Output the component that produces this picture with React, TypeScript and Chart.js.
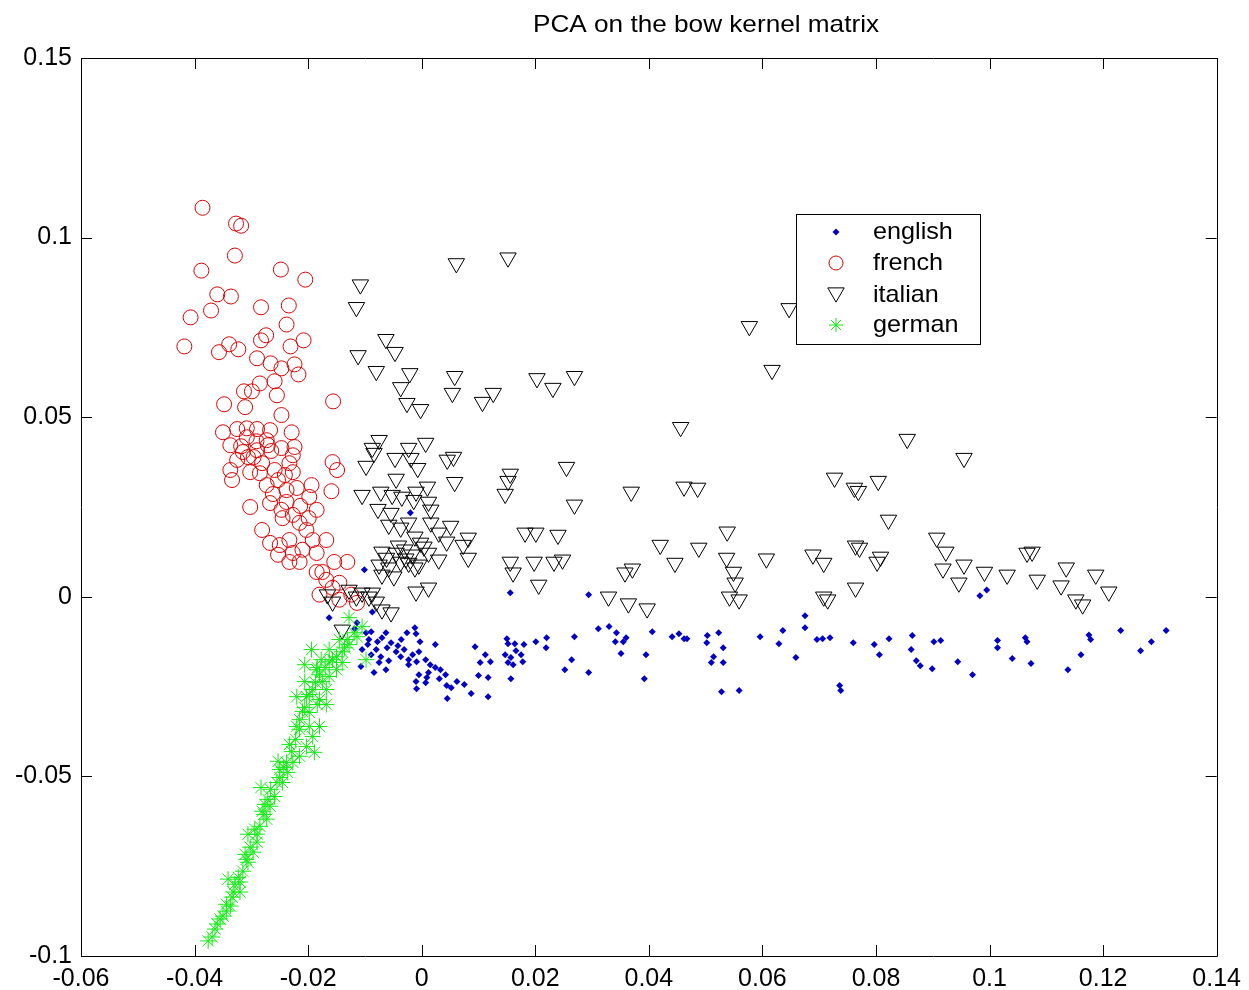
import { useEffect, useRef } from "react";
import { Chart, registerables } from "chart.js";

Chart.register(...registerables);

const chartTitle = "PCA on the bow kernel matrix";
const seriesNames = ["english", "french", "italian", "german"];
const xTickValues = [-0.06, -0.04, -0.02, 0, 0.02, 0.04, 0.06, 0.08, 0.1, 0.12, 0.14];
const xTickLabels = ["-0.06", "-0.04", "-0.02", "0", "0.02", "0.04", "0.06", "0.08", "0.1", "0.12", "0.14"];
const yTickValues = [-0.1, -0.05, 0, 0.05, 0.1, 0.15];
const yTickLabels = ["-0.1", "-0.05", "0", "0.05", "0.1", "0.15"];

const englishPoints: [number, number][] = [
  [0.0156, 0.0011], [0.0294, 0.0006], [-0.0087, -0.0042], [-0.0114, -0.0072], [-0.0163, -0.0058],
  [-0.0098, -0.01], [-0.0089, -0.0097], [-0.0063, -0.01], [-0.0026, -0.01], [-0.0012, -0.0086],
  [-0.001, -0.0103], [-0.0093, -0.0119], [-0.007, -0.0114], [-0.0054, -0.0128], [-0.0003, -0.0125],
  [0.0024, -0.0133], [-0.0105, -0.0147], [-0.008, -0.0147], [-0.0061, -0.0142], [-0.0045, -0.0153],
  [-0.0031, -0.0147], [-0.0005, -0.0153], [-0.0089, -0.0161], [-0.0072, -0.0167], [-0.0037, -0.0167],
  [-0.0023, -0.0175], [0.0007, -0.0175], [-0.0075, -0.0183], [-0.0023, -0.0189], [-0.0009, -0.0181],
  [-0.0107, -0.0194], [-0.0063, -0.0203], [0.0024, -0.0197], [0.0012, -0.0211], [-0.0005, -0.0217],
  [0.0033, -0.0203], [-0.0084, -0.0211], [0.0042, -0.0217], [0.0009, -0.0225], [-0.001, -0.0236],
  [0.0007, -0.0239], [0.0044, -0.0247], [0.0052, -0.0253], [-0.0009, -0.0256], [0.0075, -0.0244],
  [0.0087, -0.0269], [0.0045, -0.0283], [0.0117, -0.0278], [0.0094, -0.0139], [0.0112, -0.0161],
  [0.0121, -0.0181], [0.0103, -0.0183], [0.01, -0.0219], [0.0117, -0.0225], [0.015, -0.0117],
  [0.0152, -0.0131], [0.0164, -0.0131], [0.018, -0.0133], [0.0201, -0.0125], [0.022, -0.0114],
  [0.0219, -0.0142], [0.0147, -0.0161], [0.0166, -0.015], [0.0175, -0.0161], [0.0157, -0.0169],
  [0.0152, -0.0183], [0.0161, -0.0189], [0.0178, -0.0181], [0.0157, -0.0228], [0.0269, -0.0111],
  [0.0264, -0.0175], [0.0252, -0.0203], [0.0294, -0.0211], [0.0311, -0.0089], [0.033, -0.0083],
  [0.0343, -0.01], [0.036, -0.0114], [0.0355, -0.0125], [0.0341, -0.0125], [0.0351, -0.0158],
  [0.0395, -0.0161], [0.0406, -0.0097], [0.0392, -0.0228], [0.0441, -0.0111], [0.0453, -0.0103],
  [0.0462, -0.0117], [0.0467, -0.0117], [0.0503, -0.0108], [0.0523, -0.01], [0.0502, -0.0128],
  [0.0531, -0.0142], [0.0514, -0.0167], [0.051, -0.0183], [0.0531, -0.0183], [0.0528, -0.0264],
  [0.0559, -0.0261], [0.0596, -0.0111], [0.0636, -0.0094], [0.0629, -0.0131], [0.0983, 0.0003],
  [0.0995, 0.0019], [0.0675, -0.0053], [0.0675, -0.0086], [0.0659, -0.0169], [0.0696, -0.0119],
  [0.0706, -0.0117], [0.0719, -0.0114], [0.0736, -0.0247], [0.0738, -0.0261], [0.076, -0.0128],
  [0.0797, -0.0133], [0.0806, -0.0161], [0.0823, -0.0117], [0.0864, -0.0108], [0.0862, -0.0147],
  [0.0871, -0.0178], [0.0878, -0.0192], [0.0899, -0.02], [0.0902, -0.0125], [0.0914, -0.0122],
  [0.0944, -0.0181], [0.097, -0.0217], [0.1014, -0.0122], [0.1014, -0.0142], [0.104, -0.0172],
  [0.1063, -0.0114], [0.1066, -0.0125], [0.1073, -0.0186], [0.1138, -0.0203], [0.1161, -0.0161],
  [0.1175, -0.0106], [0.1178, -0.0119], [0.1231, -0.0094], [0.1266, -0.015], [0.1285, -0.0125],
  [0.1311, -0.0094], [-0.002, 0.0234], [-0.0101, 0.0075],
  [-0.0078, -0.0125], [-0.0042, -0.0136], [-0.0016, -0.0161], [-0.0058, -0.0178], [0.0015, -0.0189],
  [-0.0095, -0.0133], [-0.0118, -0.0089], [-0.0036, -0.0119], [0.0031, -0.0228], [0.0062, -0.0236],
];

const frenchPoints: [number, number][] = [
  [-0.0386, 0.1083], [-0.0327, 0.1039], [-0.0318, 0.1033], [-0.0329, 0.095], [-0.0388, 0.0908],
  [-0.0248, 0.0911], [-0.0205, 0.0883], [-0.036, 0.0842], [-0.0336, 0.0836], [-0.0371, 0.0797],
  [-0.0407, 0.0778], [-0.0283, 0.0806], [-0.0234, 0.0811], [-0.0238, 0.0758], [-0.0418, 0.0697],
  [-0.0357, 0.0681], [-0.0339, 0.0703], [-0.0323, 0.0689], [-0.0283, 0.0714], [-0.0274, 0.0728],
  [-0.0208, 0.0714], [-0.029, 0.0664], [-0.0266, 0.065], [-0.0247, 0.0636], [-0.0224, 0.0647],
  [-0.0217, 0.0619], [-0.0259, 0.06], [-0.0285, 0.0594], [-0.0313, 0.0572], [-0.0299, 0.0572],
  [-0.0255, 0.0561], [-0.0348, 0.0536], [-0.0156, 0.0544], [-0.0311, 0.0528], [-0.0247, 0.0506],
  [-0.035, 0.0458], [-0.0325, 0.0467], [-0.0308, 0.0469], [-0.029, 0.0467], [-0.0267, 0.0464],
  [-0.0229, 0.0458], [-0.0308, 0.0444], [-0.0273, 0.0436], [-0.0337, 0.0422], [-0.0315, 0.0403],
  [-0.029, 0.0408], [-0.0271, 0.0422], [-0.0247, 0.0414], [-0.0224, 0.0417], [-0.0325, 0.0381],
  [-0.0306, 0.0389], [-0.0227, 0.0394], [-0.0157, 0.0375], [-0.0149, 0.0353], [-0.0337, 0.0353],
  [-0.0334, 0.0325], [-0.0302, 0.0347], [-0.0285, 0.0344], [-0.0259, 0.0353], [-0.0233, 0.0372],
  [-0.0227, 0.0347], [-0.0273, 0.0311], [-0.0253, 0.0325], [-0.0238, 0.0297], [-0.022, 0.0303],
  [-0.0194, 0.0311], [-0.0198, 0.0278], [-0.0185, 0.0242], [-0.0159, 0.0294], [-0.0302, 0.025],
  [-0.0267, 0.0261], [-0.0247, 0.0242], [-0.0227, 0.0228], [-0.0245, 0.0219], [-0.0215, 0.0206],
  [-0.0281, 0.0186], [-0.0203, 0.0186], [-0.0192, 0.0158], [-0.0168, 0.0158], [-0.0267, 0.015],
  [-0.025, 0.0144], [-0.0233, 0.0158], [-0.0227, 0.0122], [-0.021, 0.0131], [-0.0253, 0.0117],
  [-0.0233, 0.0097], [-0.0215, 0.0097], [-0.0185, 0.0122], [-0.0154, 0.0097], [-0.0131, 0.0097],
  [-0.0175, 0.0069], [-0.0185, 0.0069], [-0.0168, 0.0047], [-0.0145, 0.0039], [-0.018, 0.0006],
  [-0.0157, 0.0025], [-0.0145, -0.0008], [-0.0124, 0.0006], [-0.0114, -0.0017], [-0.0231, 0.0697],
  [-0.0296, 0.0389], [-0.0281, 0.0372], [-0.0262, 0.0286], [-0.0238, 0.0264], [-0.0214, 0.0253],
  [-0.0199, 0.0219], [-0.0265, 0.0406], [-0.0318, 0.0419], [-0.0291, 0.0433], [-0.0241, 0.0339],
];

const italianPoints: [number, number][] = [
  [0.0061, 0.0928], [0.0152, 0.0944], [-0.0108, 0.0869], [-0.0115, 0.0806], [-0.0063, 0.0717],
  [-0.0047, 0.0681], [-0.0112, 0.0672], [-0.008, 0.0628], [-0.0021, 0.0622], [-0.0037, 0.0583],
  [0.0058, 0.0614], [0.0054, 0.0567], [0.0107, 0.0542], [0.0126, 0.0567], [-0.0026, 0.0539],
  [-0.0002, 0.0522], [-0.0075, 0.0436], [-0.0087, 0.0414], [-0.0084, 0.04], [-0.0098, 0.0364],
  [-0.0047, 0.0386], [-0.0023, 0.0414], [0.0007, 0.0428], [-0.0019, 0.0386], [-0.0007, 0.0358],
  [0.0045, 0.0381], [0.0056, 0.0389], [-0.0045, 0.0328], [0.0156, 0.0342], [0.0152, 0.0322],
  [0.0147, 0.0286], [-0.0105, 0.0283], [-0.0072, 0.0292], [-0.0052, 0.0283], [-0.0035, 0.0278],
  [-0.001, 0.0292], [0.001, 0.0306], [0.0058, 0.0319], [-0.0077, 0.0244], [-0.0054, 0.0233],
  [-0.0014, 0.0269], [0.0012, 0.0264], [0.0016, 0.0242], [-0.0058, 0.02], [-0.0037, 0.0192],
  [-0.0023, 0.0206], [0.0016, 0.0206], [0.0051, 0.0197], [-0.0012, 0.0167], [-0.0002, 0.015],
  [0.003, 0.0178], [0.0044, 0.0153], [0.0082, 0.0164], [0.0073, 0.0144], [0.0082, 0.0108],
  [-0.007, 0.0125], [-0.0045, 0.0122], [-0.003, 0.0131], [-0.0017, 0.0117], [0.0012, 0.0122],
  [0.003, 0.0103], [-0.0075, 0.0089], [-0.0058, 0.0081], [-0.0037, 0.0097], [-0.0023, 0.0094],
  [-0.0005, 0.0089], [-0.0049, 0.0056], [-0.007, 0.0061], [-0.001, 0.0014], [0.0012, 0.0025],
  [0.0156, 0.0097], [0.0161, 0.0067], [0.0182, 0.0178], [-0.0087, 0.0011], [-0.0105, 0.0011],
  [-0.0128, 0.0019], [-0.0054, -0.0044], [-0.007, -0.0036], [-0.014, -0.0092], [-0.0115, 0.0],
  [-0.0093, 0.0], [-0.008, -0.0014], [-0.0166, 0.0006], [-0.0157, -0.0014],
  [0.0647, 0.0803], [0.0577, 0.0753], [0.0617, 0.0631], [0.0203, 0.0608], [0.0231, 0.0581],
  [0.0269, 0.0614], [0.0456, 0.0472], [0.0255, 0.0361], [0.0269, 0.0256], [0.0369, 0.0292],
  [0.0462, 0.0306], [0.0486, 0.0303], [0.0727, 0.0331], [0.0762, 0.0303], [0.0201, 0.0178],
  [0.024, 0.0172], [0.042, 0.0144], [0.0488, 0.0136], [0.0538, 0.0181], [0.0198, 0.0097],
  [0.0233, 0.0097], [0.0248, 0.0103], [0.0206, 0.0033], [0.0358, 0.0067], [0.0371, 0.0078],
  [0.0446, 0.0094], [0.0537, 0.0108], [0.0549, 0.0069], [0.0552, 0.0039], [0.0542, 0.0],
  [0.0559, -0.0008], [0.0607, 0.0106], [0.0689, 0.0117], [0.0708, 0.0094], [0.0764, 0.0142],
  [0.0764, 0.0025], [0.0708, 0.0], [0.0715, -0.0008], [0.0329, 0.0], [0.0364, -0.0019],
  [0.0397, -0.0033], [0.0855, 0.0439], [0.0955, 0.0386], [0.0769, 0.0294], [0.0804, 0.0322],
  [0.0822, 0.0214], [0.0771, 0.0136], [0.0808, 0.0111], [0.0802, 0.0097], [0.0907, 0.0164],
  [0.0923, 0.0125], [0.0918, 0.0078], [0.0955, 0.0089], [0.0946, 0.0039], [0.0991, 0.0069],
  [0.1031, 0.0061], [0.1066, 0.0122], [0.1075, 0.0125], [0.1084, 0.0047], [0.1126, 0.0031],
  [0.1135, 0.0081], [0.1187, 0.0061], [0.121, 0.0014], [0.1152, -0.0008], [0.1164, -0.0022],
  [-0.0028, 0.0106], [-0.0012, 0.0081], [-0.0062, 0.0108], [0.0004, 0.0139], [-0.0041, 0.0142],
];

const germanPoints: [number, number][] = [
  [-0.0105, -0.0083], [-0.0114, -0.0111], [-0.0128, -0.0133], [-0.014, -0.0153], [-0.015, -0.0167],
  [-0.0163, -0.0181], [-0.0184, -0.0197], [-0.0177, -0.0175], [-0.014, -0.0183], [-0.015, -0.0203],
  [-0.0163, -0.0222], [-0.0175, -0.0236], [-0.0192, -0.0258], [-0.0168, -0.0258], [-0.0206, -0.0236],
  [-0.022, -0.0278], [-0.0206, -0.0308], [-0.018, -0.0286], [-0.0168, -0.03], [-0.022, -0.0361],
  [-0.0198, -0.0361], [-0.018, -0.0361], [-0.0192, -0.0389], [-0.0203, -0.0417], [-0.0189, -0.0433],
  [-0.0215, -0.0444], [-0.0227, -0.0461], [-0.0253, -0.0458], [-0.0236, -0.0489], [-0.0245, -0.0517],
  [-0.0255, -0.0517], [-0.0283, -0.0531], [-0.0259, -0.0556], [-0.0267, -0.0583], [-0.0281, -0.0597],
  [-0.0273, -0.0619], [-0.0285, -0.0639], [-0.0306, -0.0661], [-0.029, -0.0683], [-0.0297, -0.0711],
  [-0.0306, -0.0739], [-0.0315, -0.0764], [-0.0341, -0.0786], [-0.032, -0.0794], [-0.0332, -0.0822],
  [-0.032, -0.0822], [-0.0337, -0.0861], [-0.035, -0.0889], [-0.036, -0.0911], [-0.0369, -0.0947],
  [-0.0185, -0.0203], [-0.0203, -0.0278], [-0.0238, -0.0461], [-0.0098, -0.0175], [-0.0128, -0.0058],
  [-0.0215, -0.0342], [-0.0198, -0.0322], [-0.0233, -0.0411], [-0.025, -0.0481], [-0.0276, -0.0578],
  [-0.0294, -0.0647], [-0.0311, -0.0717], [-0.0329, -0.08], [-0.0344, -0.0856], [-0.0355, -0.0897],
  [-0.0145, -0.0119], [-0.0163, -0.0147], [-0.0194, -0.0147],
  [-0.0119, -0.01], [-0.0131, -0.0119], [-0.0136, -0.0142], [-0.0157, -0.0175], [-0.017, -0.0197],
  [-0.018, -0.0217], [-0.0187, -0.0239], [-0.0198, -0.0272], [-0.0184, -0.03], [-0.021, -0.0319],
  [-0.0215, -0.0369], [-0.0222, -0.0397], [-0.0229, -0.0431], [-0.0243, -0.0475], [-0.025, -0.0503],
  [-0.0266, -0.0536], [-0.0271, -0.0564], [-0.0278, -0.0606], [-0.029, -0.0661], [-0.0302, -0.0697],
  [-0.0309, -0.0731], [-0.0323, -0.0781], [-0.0334, -0.0836], [-0.0344, -0.0875], [-0.0364, -0.0925],
  [-0.0376, -0.0958], [-0.0206, -0.0189],
];

const FONT = "'Liberation Sans', Arial, Helvetica, sans-serif";

function toXY(points: [number, number][]) {
  return points.map(([x, y]) => ({ x, y }));
}

function drawMarker(ctx: CanvasRenderingContext2D, kind: string, x: number, y: number) {
  ctx.save();
  ctx.lineWidth = 1;
  if (kind === "english") {
    ctx.fillStyle = "rgb(0,0,200)";
    ctx.beginPath();
    ctx.moveTo(x, y - 3.5);
    ctx.lineTo(x + 3.5, y);
    ctx.lineTo(x, y + 3.5);
    ctx.lineTo(x - 3.5, y);
    ctx.closePath();
    ctx.fill();
  } else if (kind === "french") {
    ctx.strokeStyle = "rgb(220,0,0)";
    ctx.beginPath();
    ctx.arc(x, y, 7, 0, Math.PI * 2);
    ctx.stroke();
  } else if (kind === "italian") {
    const r = 9.5;
    ctx.strokeStyle = "#000";
    ctx.beginPath();
    ctx.moveTo(x, y + r * 0.75);
    ctx.lineTo(x + (r * Math.sqrt(3)) / 2, y - r * 0.75);
    ctx.lineTo(x - (r * Math.sqrt(3)) / 2, y - r * 0.75);
    ctx.closePath();
    ctx.stroke();
  } else {
    const r = 7;
    ctx.strokeStyle = "rgb(20,230,20)";
    ctx.beginPath();
    ctx.moveTo(x - r, y);
    ctx.lineTo(x + r, y);
    ctx.moveTo(x, y - r);
    ctx.lineTo(x, y + r);
    const d = r * Math.SQRT1_2;
    ctx.moveTo(x - d, y - d);
    ctx.lineTo(x + d, y + d);
    ctx.moveTo(x - d, y + d);
    ctx.lineTo(x + d, y - d);
    ctx.stroke();
  }
  ctx.restore();
}

function stretchedText(ctx: CanvasRenderingContext2D, text: string, x: number, y: number, sx: number, align: CanvasTextAlign) {
  ctx.save();
  ctx.translate(x, y);
  ctx.scale(sx, 1);
  ctx.textAlign = align;
  ctx.textBaseline = "middle";
  ctx.fillText(text, 0, 0);
  ctx.restore();
}

const framePlugin = {
  id: "matlabFrame",
  afterDraw(chart: any) {
    const ctx: CanvasRenderingContext2D = chart.ctx;
    const { left, right, top, bottom } = chart.chartArea;
    const xs = chart.scales.x;
    const ys = chart.scales.y;
    const tick = 11;
    ctx.save();
    ctx.strokeStyle = "#000";
    ctx.lineWidth = 1;
    ctx.beginPath();
    ctx.rect(Math.round(left) + 0.5, Math.round(top) + 0.5, Math.round(right - left), Math.round(bottom - top));
    for (const v of xTickValues) {
      const px = Math.round(xs.getPixelForValue(v)) + 0.5;
      ctx.moveTo(px, bottom);
      ctx.lineTo(px, bottom - tick);
      ctx.moveTo(px, top);
      ctx.lineTo(px, top + tick);
    }
    for (const v of yTickValues) {
      const py = Math.round(ys.getPixelForValue(v)) + 0.5;
      ctx.moveTo(left, py);
      ctx.lineTo(left + tick, py);
      ctx.moveTo(right, py);
      ctx.lineTo(right - tick, py);
    }
    ctx.stroke();

    // title
    ctx.fillStyle = "#000";
    ctx.font = `24px ${FONT}`;
    stretchedText(ctx, chartTitle, 706, 25, 1.09, "center");

    // legend
    const lx = 796, ly = 214, lw = 184, lh = 130;
    ctx.fillStyle = "#fff";
    ctx.fillRect(lx, ly, lw, lh);
    ctx.strokeStyle = "#000";
    ctx.strokeRect(lx + 0.5, ly + 0.5, lw, lh);
    const rows = [232, 263, 295, 325];
    seriesNames.forEach((name, i) => {
      drawMarker(ctx, name, 836, rows[i]);
      ctx.fillStyle = "#000";
      ctx.font = `24px ${FONT}`;
      stretchedText(ctx, name, 873, rows[i], 1.05, "left");
    });
    ctx.restore();
  },
};

export default function App() {
  const ref = useRef<HTMLCanvasElement>(null);

  useEffect(() => {
    document.body.style.margin = "0";
    const canvas = ref.current;
    if (!canvas) return;
    const tickFont = { family: FONT, size: 25 };
    const chart = new Chart(canvas, {
      type: "scatter",
      data: {
        datasets: [
          {
            label: seriesNames[0],
            data: toXY(englishPoints),
            pointStyle: "rectRot",
            pointRadius: 3.5,
            backgroundColor: "rgb(0,0,200)",
            borderColor: "rgb(0,0,200)",
            borderWidth: 0,
            order: 3,
          },
          {
            label: seriesNames[1],
            data: toXY(frenchPoints),
            pointStyle: "circle",
            pointRadius: 7.5,
            backgroundColor: "rgba(0,0,0,0)",
            borderColor: "rgb(220,0,0)",
            borderWidth: 1,
            order: 2,
          },
          {
            label: seriesNames[2],
            data: toXY(italianPoints),
            pointStyle: "triangle",
            pointRotation: 180,
            pointRadius: 9.5,
            backgroundColor: "rgba(0,0,0,0)",
            borderColor: "#000",
            borderWidth: 1,
            order: 1,
          },
          {
            label: seriesNames[3],
            data: toXY(germanPoints),
            pointStyle: "star",
            pointRadius: 8,
            backgroundColor: "rgba(0,0,0,0)",
            borderColor: "rgb(20,235,20)",
            borderWidth: 1,
            order: 0,
          },
        ],
      },
      options: {
        responsive: false,
        animation: false,
        events: [],
        layout: { padding: { top: 58, right: 29, left: 0, bottom: 0 } },
        plugins: {
          legend: { display: false },
          title: { display: false },
          tooltip: { enabled: false },
        },
        scales: {
          x: {
            type: "linear",
            min: -0.06,
            max: 0.14,
            grid: { display: false, drawTicks: false },
            border: { display: false },
            afterBuildTicks: (scale: any) => {
              scale.ticks = xTickValues.map((value) => ({ value }));
            },
            afterFit: (scale: any) => {
              scale.height = 34;
            },
            ticks: {
              autoSkip: false,
              maxRotation: 0,
              padding: 8,
              color: "#000",
              font: tickFont,
              callback: (_v: any, i: number) => xTickLabels[i],
            },
          },
          y: {
            type: "linear",
            min: -0.1,
            max: 0.15,
            grid: { display: false, drawTicks: false },
            border: { display: false },
            afterBuildTicks: (scale: any) => {
              scale.ticks = yTickValues.map((value) => ({ value }));
            },
            afterFit: (scale: any) => {
              scale.width = 81;
            },
            ticks: {
              autoSkip: false,
              padding: 9,
              color: "#000",
              font: tickFont,
              callback: (_v: any, i: number) => yTickLabels[i],
            },
          },
        },
      },
      plugins: [framePlugin],
    });
    return () => chart.destroy();
  }, []);

  return <canvas ref={ref} width={1249} height={990} style={{ display: "block" }} />;
}
